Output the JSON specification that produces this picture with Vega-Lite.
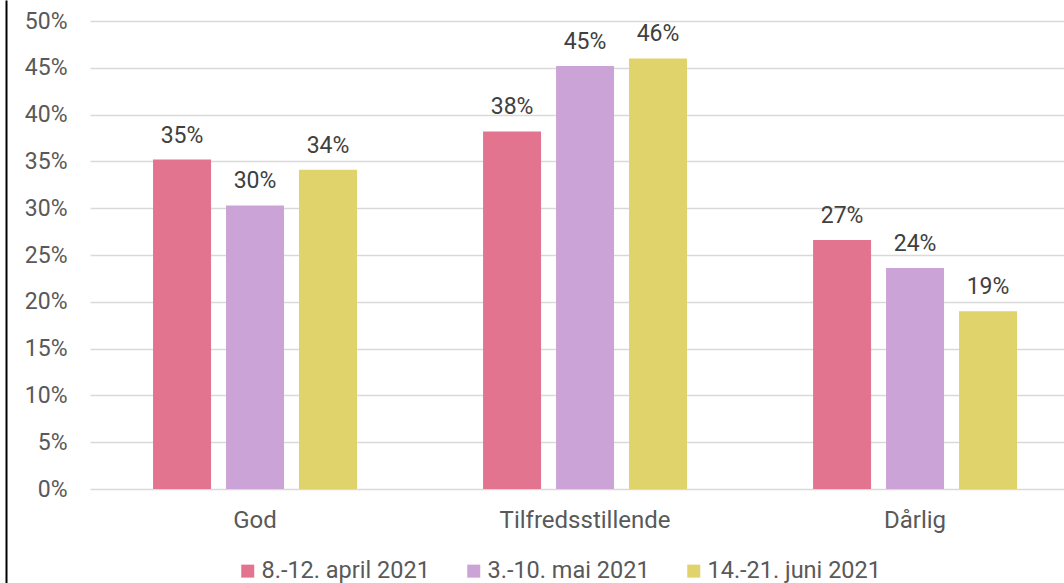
{
  "$schema": "https://vega.github.io/schema/vega-lite/v6.json",
  "width": 974,
  "height": 468,
  "autosize": {"type": "none"},
  "padding": {"left": 90, "top": 21, "right": 0, "bottom": 94},
  "background": "white",
  "config": {"view": {"stroke": null}, "font": "Roboto"},
  "data": {
    "values": [
      {"cat": "God", "period": "8.-12. april 2021", "value": 0.352},
      {"cat": "God", "period": "3.-10. mai 2021", "value": 0.303},
      {"cat": "God", "period": "14.-21. juni 2021", "value": 0.341},
      {"cat": "Tilfredsstillende", "period": "8.-12. april 2021", "value": 0.382},
      {"cat": "Tilfredsstillende", "period": "3.-10. mai 2021", "value": 0.452},
      {"cat": "Tilfredsstillende", "period": "14.-21. juni 2021", "value": 0.460},
      {"cat": "Dårlig", "period": "8.-12. april 2021", "value": 0.266},
      {"cat": "Dårlig", "period": "3.-10. mai 2021", "value": 0.236},
      {"cat": "Dårlig", "period": "14.-21. juni 2021", "value": 0.190}
    ]
  },
  "layer": [
    {
      "encoding": {
        "x": {
          "field": "cat", "type": "nominal",
          "sort": ["God", "Tilfredsstillende", "Dårlig"],
          "scale": {"paddingInner": 0.382, "paddingOuter": 0.1667, "align": 0.573},
          "axis": {"title": null, "domain": false, "ticks": false, "tickSize": 0, "labelAngle": 0, "labelFontSize": 24, "labelColor": "#595959", "labelPadding": 19}
        },
        "xOffset": {
          "field": "period", "type": "nominal",
          "sort": ["8.-12. april 2021", "3.-10. mai 2021", "14.-21. juni 2021"],
          "scale": {"paddingInner": 0.2055, "paddingOuter": 0}
        },
        "y": {
          "field": "value", "type": "quantitative",
          "scale": {"domain": [0, 0.5]},
          "axis": {"orient": "left", "title": null, "format": ".0%", "values": [0, 0.05, 0.1, 0.15, 0.2, 0.25, 0.3, 0.35, 0.4, 0.45, 0.5], "grid": true, "gridColor": "#D9D9D9", "gridWidth": 1.5, "domain": false, "ticks": false, "tickSize": 0, "labelPadding": 23, "labelFontSize": 23, "labelColor": "#595959"}
        }
      },
      "layer": [
        {
          "mark": {"type": "bar"},
          "encoding": {
            "color": {
              "field": "period", "type": "nominal",
              "sort": ["8.-12. april 2021", "3.-10. mai 2021", "14.-21. juni 2021"],
              "scale": {"domain": ["8.-12. april 2021", "3.-10. mai 2021", "14.-21. juni 2021"], "range": ["#E27490", "#CCA3D6", "#E1D36B"]},
              "legend": {"orient": "none", "legendX": 146, "legendY": 538, "direction": "horizontal", "title": null, "symbolType": "square", "symbolSize": 169, "symbolStrokeWidth": 0, "symbolOpacity": 1, "labelFontSize": 23.5, "labelColor": "#595959", "labelOffset": 2, "labelLimit": 400, "columnPadding": 32}
            }
          }
        },
        {
          "mark": {"type": "text", "fontSize": 23, "color": "#404040", "baseline": "alphabetic", "align": "center", "dy": -17},
          "encoding": {
            "text": {"field": "value", "type": "quantitative", "format": ".0%"}
          }
        }
      ]
    },
    {
      "mark": {"type": "point", "opacity": 0},
      "encoding": {
        "y": {
          "field": "value", "type": "quantitative",
          "scale": {"domain": [0, 0.5], "range": [562, -21]},
          "axis": {"orient": "left", "offset": 84, "title": null, "domain": true, "domainColor": "#000000", "domainWidth": 2, "labels": false, "ticks": false, "grid": false}
        }
      }
    }
  ],
  "resolve": {"scale": {"y": "independent"}, "axis": {"y": "independent"}}
}
